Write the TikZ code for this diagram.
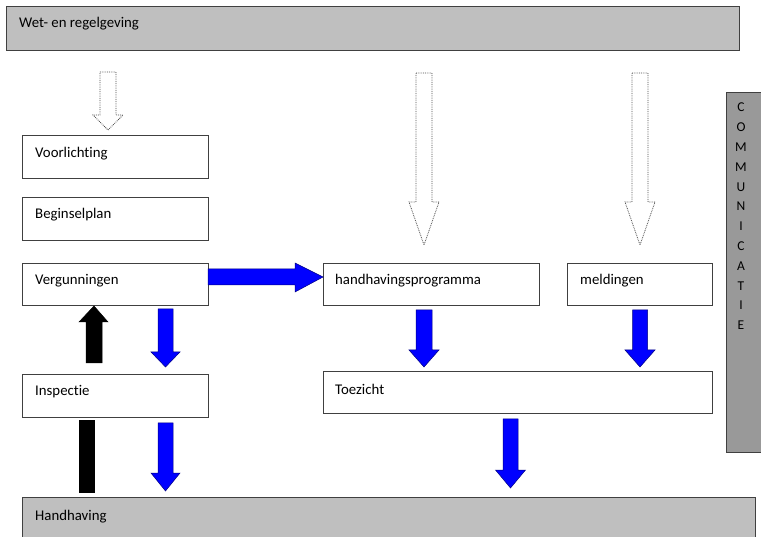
\documentclass[tikz,border=0pt]{standalone}
\usepackage{fontspec}
\setmainfont{Carlito}[Ligatures={NoCommon}]
\begin{document}
\begin{tikzpicture}[x=1pt,y=-1pt,
  box/.style={draw=black!75, line width=0.8pt, fill=white, rectangle, inner sep=0pt, anchor=north west},
  graybox/.style={box, fill=black!25},
  darkbox/.style={box, fill=black!40},
  lbl/.style={anchor=west, inner sep=0pt, font=\fontsize{14.8}{17}\selectfont},
  bluearrow/.style={fill=blue, draw=blue!50!black, line width=0.5pt},
  blackarrow/.style={fill=black, draw=black, line width=0.5pt},
  hollowarrow/.style={fill=white, draw=black!70, densely dotted, line width=0.8pt}
]
\useasboundingbox (0,0) rectangle (761,537);

% down block arrow: style, cx, ytop, yhead, ytip, shaft half width, head half width
\newcommand{\downblk}[7]{%
  \path[#1] (#2-#6,#3) -- (#2+#6,#3) -- (#2+#6,#4) -- (#2+#7,#4) -- (#2,#5) -- (#2-#7,#4) -- (#2-#6,#4) -- cycle;}

% boxes
\node[graybox, minimum width=733pt, minimum height=44pt,
  label={[lbl, xshift=13pt, yshift=-18pt]north west:Wet- en regelgeving}] (wet) at (6,6) {};
\node[darkbox, minimum width=50pt, minimum height=360pt,
  label={[anchor=north, inner sep=0pt, align=center, xshift=15pt, yshift=-11pt, font=\fontsize{13.5}{19.8}\selectfont]north west:C\\O\\M\\M\\U\\N\\I\\C\\A\\T\\I\\E}] (comm) at (726,92) {};
\node[box, minimum width=186pt, minimum height=43pt,
  label={[lbl, xshift=13pt, yshift=-18.5pt]north west:Voorlichting}] (vl) at (22,135) {};
\node[box, minimum width=186pt, minimum height=43pt,
  label={[lbl, xshift=13pt, yshift=-18pt]north west:Beginselplan}] (bp) at (22,197) {};
\node[box, minimum width=186pt, minimum height=42pt,
  label={[lbl, xshift=13pt, yshift=-18pt]north west:Vergunningen}] (vg) at (22,263) {};
\node[box, minimum width=186pt, minimum height=43pt,
  label={[lbl, xshift=13pt, yshift=-18pt]north west:Inspectie}] (insp) at (22,374) {};
\node[box, minimum width=216pt, minimum height=42pt,
  label={[lbl, xshift=12pt, yshift=-18pt]north west:handhavingsprogramma}] (hp) at (323,263) {};
\node[box, minimum width=145pt, minimum height=42pt,
  label={[lbl, xshift=13pt, yshift=-18pt]north west:meldingen}] (meld) at (567,263) {};
\node[box, minimum width=389pt, minimum height=42pt,
  label={[lbl, xshift=12pt, yshift=-18pt]north west:Toezicht}] (toe) at (323,371) {};
\node[graybox, minimum width=733pt, minimum height=60pt,
  label={[lbl, xshift=13pt, yshift=-20pt]north west:Handhaving}] (hh) at (22,497) {};

% hollow dotted arrows from Wet- en regelgeving
\downblk{hollowarrow}{108}{72}{115}{130}{8}{15}
\downblk{hollowarrow}{424}{73}{202}{245}{8}{15}
\downblk{hollowarrow}{640}{73}{202}{245}{8}{15}

% blue right arrow Vergunningen -> handhavingsprogramma
\path[bluearrow] (208,269) -- (295,269) -- (295,263) -- (323,277) -- (295,292) -- (295,285) -- (208,285) -- cycle;

% black up arrow Inspectie -> Vergunningen
\path[blackarrow] (86,363) -- (102,363) -- (102,322) -- (108,322) -- (94,306) -- (79,322) -- (86,322) -- cycle;
% black bar Handhaving -> Inspectie
\path[blackarrow] (79,420) rectangle (94,492);

% blue down arrows
\downblk{bluearrow}{165.5}{309}{352}{367}{7.5}{14.5}
\downblk{bluearrow}{165.5}{423}{473}{491}{7.5}{14.5}
\downblk{bluearrow}{424}{310}{350}{367}{8}{15}
\downblk{bluearrow}{640}{310}{350}{367}{7.5}{15}
\downblk{bluearrow}{510.5}{419}{470}{488}{7.5}{15}
\end{tikzpicture}
\end{document}
